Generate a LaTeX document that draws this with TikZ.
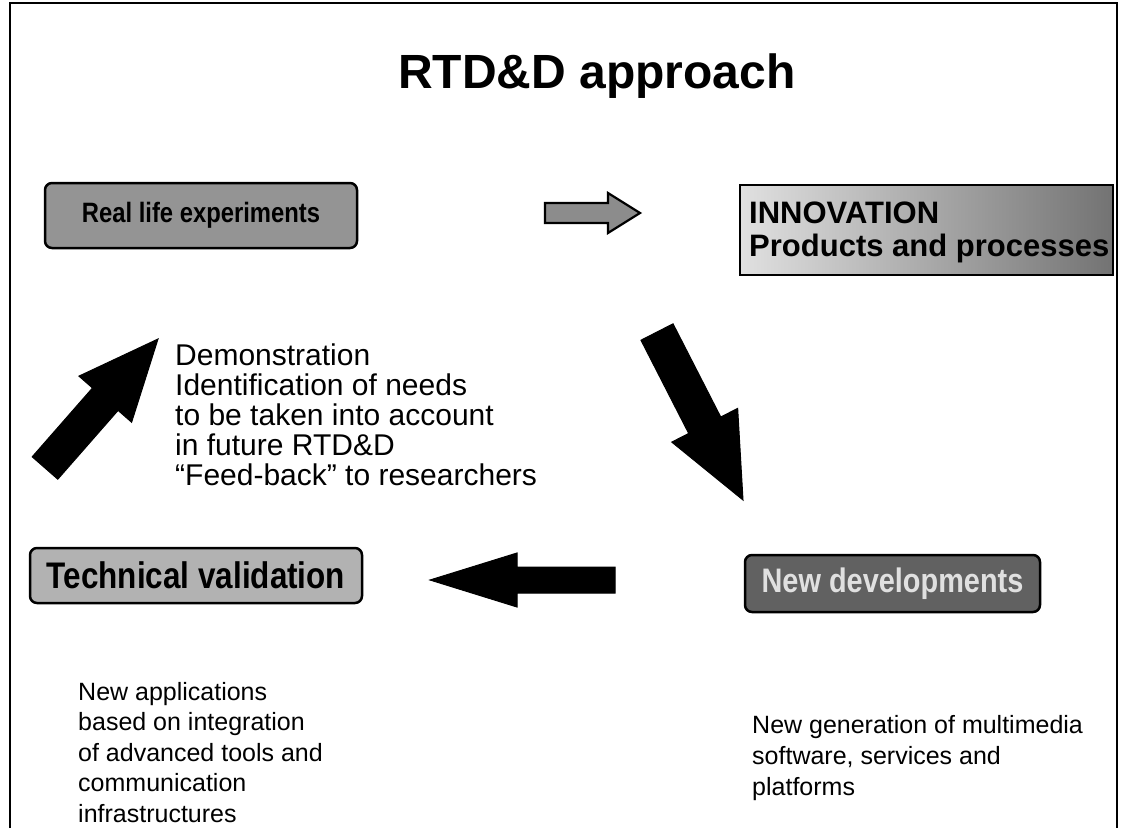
\documentclass[tikz,border=0pt]{standalone}
\usepackage{fontspec}
\setmainfont{Liberation Sans}
\newfontfamily\narrowbold[FakeStretch=0.85]{Liberation Sans Bold}
\usetikzlibrary{calc}
\newcommand\blockarrow[6]{%
  \coordinate (#1h) at ($(#2)!#5!(#1)$);
  \path[#6] ($(#1)!#3!90:(#2)$) -- ($(#1h)!#3!90:(#2)$) -- ($(#1h)!#4!90:(#2)$) -- (#2)
    -- ($(#1h)!#4!-90:(#2)$) -- ($(#1h)!#3!-90:(#2)$) -- ($(#1)!#3!-90:(#2)$) -- cycle;}
\begin{document}
\begin{tikzpicture}[x=1pt,y=-1pt]
\tikzset{
  boxlabel/.style={draw=black, line width=2.5pt, rounded corners=7pt, inner sep=0pt},
  bodytext/.style={align=left, anchor=base west, inner sep=0pt},
  blackarrow/.style={fill=black, draw=black, line width=1pt, line join=miter},
  grayarrow/.style={fill=black!45, draw=black, line width=2.2pt, line join=miter}
}
\useasboundingbox (0,0) rectangle (1127,828);
\fill[white] (0,0) rectangle (1127,828);
\draw[line width=1.5pt] (10,828) -- (10,3) -- (1117,3) -- (1117,828);

\node[anchor=base, inner sep=0pt, font=\bfseries\fontsize{48}{56}\selectfont] (title) at (597,88) {RTD\&D approach};

\node[boxlabel, fill=black!42, minimum width=312pt, minimum height=65pt, font=\narrowbold\fontsize{28}{32}\selectfont] (rle) at (201,215.5) {Real life experiments};

\coordinate (sa) at (545,213);
\coordinate (sb) at (640,213);
\blockarrow{sa}{sb}{10pt}{20pt}{32pt}{grayarrow}

\node[draw=black, line width=2.5pt, left color=black!12, right color=black!55, minimum width=373pt, minimum height=90pt, inner sep=0pt] (innobox) at (926.5,230) {};
\node[bodytext, font=\bfseries\fontsize{31}{33}\selectfont] (inno) at (749,256) {INNOVATION\\Products and processes};

\coordinate (ua) at (45,468);
\coordinate (ub) at (158,339);
\blockarrow{ua}{ub}{17pt}{35pt}{80pt}{blackarrow}

\node[bodytext, font=\fontsize{30}{30}\selectfont] (demo) at (175,485) {Demonstration\\Identification of needs\\to be taken into account\\in future RTD\&D\\“Feed-back” to researchers};

\coordinate (da) at (657,332);
\coordinate (db) at (743,500);
\blockarrow{da}{db}{18pt}{37pt}{84pt}{blackarrow}

\node[boxlabel, fill=black!30, minimum width=332pt, minimum height=55pt, font=\narrowbold\fontsize{37}{40}\selectfont] (tv) at (196,575.5) {Technical validation};

\coordinate (la) at (615,580);
\coordinate (lb) at (430,580);
\blockarrow{la}{lb}{13pt}{27pt}{87pt}{blackarrow}

\node[boxlabel, fill=black!62, text=black!12, minimum width=295pt, minimum height=57pt, font=\narrowbold\fontsize{34}{38}\selectfont] (nd) at (892.5,583.5) {New developments};

\node[bodytext, font=\fontsize{25}{30.5}\selectfont] (apps) at (78,822) {New applications\\based on integration\\of advanced tools and\\communication\\infrastructures};

\node[bodytext, font=\fontsize{25}{31}\selectfont] (gen) at (752,795) {New generation of multimedia\\software, services and\\platforms};
\end{tikzpicture}
\end{document}
